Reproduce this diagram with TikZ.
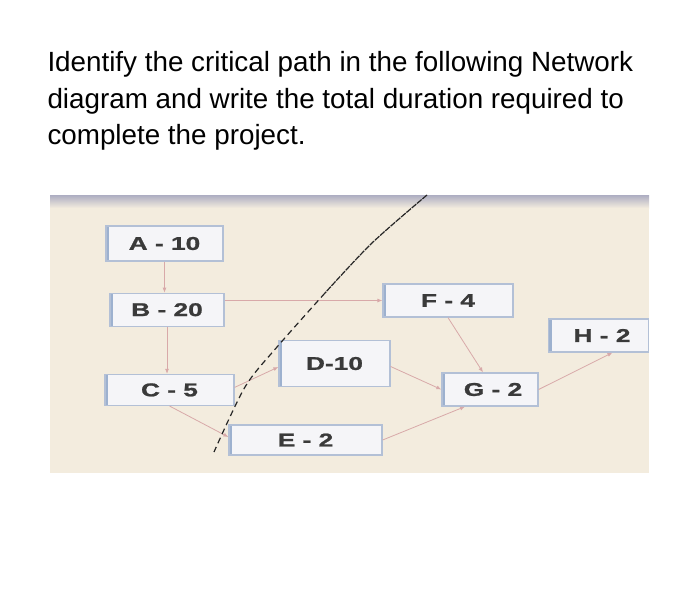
\documentclass[tikz,border=0pt]{standalone}
\usepackage{fontspec}
\setmainfont{Liberation Sans}
\newfontfamily\screenfont[FakeStretch=1.42, FakeBold=1.2]{Liberation Sans Bold}
\usetikzlibrary{arrows.meta,positioning}
\definecolor{photo}{HTML}{F3ECDE}
\definecolor{band}{HTML}{ADADC2}
\definecolor{taskfill}{HTML}{F5F5F8}
\definecolor{taskline}{HTML}{B3C0D6}
\definecolor{taskedge}{HTML}{9DB1CF}
\definecolor{tasktext}{HTML}{3A3A3A}
\definecolor{linkcol}{HTML}{D8A9A9}

\begin{document}
\begin{tikzpicture}[
		x=1pt, y=-1pt,
		line width=1pt,
		task/.style={draw=taskline, fill=taskfill, line width=1.2pt, inner sep=0pt, text=tasktext,
			font=\screenfont\fontsize{18.5}{18.5}\selectfont,
			path picture={\fill[taskedge] (path picture bounding box.north west) rectangle ([xshift=3pt]path picture bounding box.south west);}},
		link/.style={draw=linkcol, line width=0.8pt, -{Latex[length=5pt,width=4pt]}},
		cutline/.style={line width=1.2pt, draw=black!85},
	]
		\useasboundingbox[fill=white] (0,0) rectangle (700,611);

		\node (question) [anchor=north west, align=left, inner sep=0pt, font=\fontsize{27.8}{36.5}\selectfont] at (47,51)
			{Identify the critical path in the following Network\\ diagram and write the total duration required to\\ complete the project.};

		% the photographed screen
		\fill[photo] (50,195) rectangle (649,473);
		\shade[top color=band, bottom color=photo] (50,195) rectangle (649,208);

		\node (a) [task, minimum width=117pt, minimum height=35pt] at (164.5,243.5) {A - 10\hspace{9pt}};
		\node (b) [task, minimum width=114pt, minimum height=33pt, below=31pt of a, xshift=2.5pt] {B - 20};
		\node (c) [task, minimum width=129pt, minimum height=31pt, below=47pt of b, xshift=2.5pt] {C - 5\hspace{39pt}};
		\node (d) [task, minimum width=111pt, minimum height=46pt] at (334.5,363.5) {D-10\hspace{13pt}};
		\node (e) [task, minimum width=153pt, minimum height=30pt] at (305.5,440) {E - 2\hspace{19pt}};
		\node (f) [task, minimum width=130pt, minimum height=33pt] at (448,300.5) {F - 4\hspace{28pt}};
		\node (g) [task, minimum width=96pt, minimum height=33pt] at (490,389.5) {\hspace{6pt}G - 2};
		\node (h) [task, minimum width=100pt, minimum height=33pt] at (598.5,335.5) {\hspace{7pt}H - 2};

		\draw[link] (a) -- (a |- b.north);
		\draw[link] (b) -- (b |- c.north);
		\draw[link] (b.east |- f.west) -- (f.west);
		\draw[link] ([yshift=2.5pt]c.east) -- ([yshift=-3.5pt]d.west);
		\draw[link] (c.south) -- ([yshift=3pt]e.west);
		\draw[link] ([yshift=-3pt]d.east) -- (g.west);
		\draw[link] (f.south) -- ([xshift=-7pt]g.north);
		\draw[link] (e.east) -- ([xshift=-25pt]g.south);
		\draw[link] (g.east) -- ([xshift=14pt]h.south);

		% pen mark across the screen
		\draw[cutline, dash pattern=on 6pt off 1pt] plot[smooth] coordinates {(427,195) (372,243) (325,293)};
		\draw[cutline, dash pattern=on 6pt off 4pt] plot[smooth] coordinates {(325,293) (277,347) (245,387) (214,452)};
	\end{tikzpicture}
\end{document}
